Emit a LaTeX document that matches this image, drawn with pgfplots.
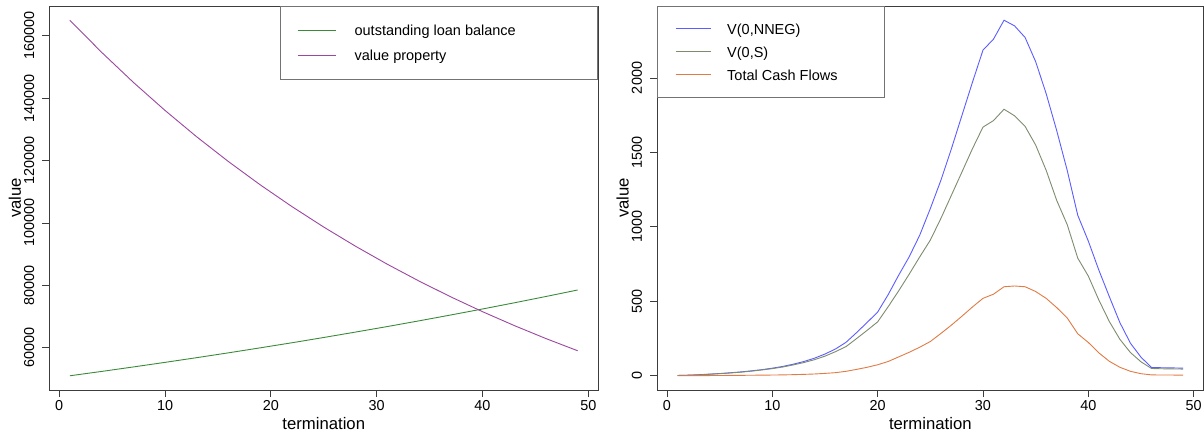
\documentclass[border=0pt]{standalone}
\usepackage{fontspec}
\setmainfont{Liberation Sans}
\usepackage{pgfplots}
\usepackage{pgfplotstable}
\pgfplotsset{compat=1.18}

\definecolor{loangreen}{HTML}{3A8A3A}
\definecolor{propviolet}{HTML}{9C46A0}
\definecolor{nnegblue}{HTML}{5C5CFF}
\definecolor{sgreen}{HTML}{7D8C6E}
\definecolor{cforange}{HTML}{E07B45}
\definecolor{framegray}{HTML}{3C3C3C}

% loan balance and property value by termination year
\pgfplotstableread{
t  loan   prop
1  51000  165000
4  52390  154730
7  53830  145100
10 55300  136070
13 56810  127600
16 58360  119660
19 59960  112210
22 61590  105230
25 63280  98680
28 65010  92540
31 66780  86780
34 68610  81380
37 70490  76310
40 72410  71560
43 74390  67110
46 76420  62930
49 78510  59020
}\balance

% guarantee values and cash flows by termination year
\pgfplotstableread{
t  nneg  vs    cf
1  2     2     0
2  4     4     0.5
3  7     6     1
4  11    10    1.5
5  15    14    2
6  20    19    2.5
7  26    24    3
8  33    31    3.5
9  41    39    4.5
10 51    48    5
11 63    59    6
12 78    73    7.5
13 96    89    9.5
14 118   108   12
15 146   132   16
16 180   162   21
17 225   196   30
18 290   250   43
19 358   305   57
20 428   362   74
21 545   464   96
22 676   571   127
23 800   683   158
24 945   799   192
25 1123  911   230
26 1312  1056  284
27 1524  1212  340
28 1748  1368  400
29 1971  1525  462
30 2187  1670  520
31 2261  1714  548
32 2388  1790  598
33 2350  1746  603
34 2272  1675  598
35 2110  1550  566
36 1895  1380  520
37 1647  1178  458
38 1379  1015  388
39 1078  790   282
40 905   670   224
41 710   509   154
42 531   364   97
43 357   245   57
44 219   156   30
45 125   94    14
46 56    49    6
47 54    47    5
48 53    46    5
49 51    45    4
}\guarantee

\pgfplotsset{
  rpanel/.style={
    scale only axis, height=384bp, anchor=south west,
    axis line style={draw=framegray, line width=0.8bp},
    every tick/.style={draw=framegray, line width=0.8bp},
    tick align=outside, major tick length=7bp,
    xtick pos=left, ytick pos=left,
    xmin=-0.92, xmax=50.92, xtick={0,10,...,50},
    scaled y ticks=false,
    xticklabel={\pgfmathprintnumber[fixed,precision=0,1000 sep={},assume math mode=true]{\tick}},
    yticklabel={\pgfmathprintnumber[fixed,precision=0,1000 sep={},assume math mode=true]{\tick}},
    ticklabel style={font=\fontsize{14.4bp}{17bp}\selectfont, inner sep=0pt},
    xticklabel style={anchor=north},
    yticklabel style={rotate=90, anchor=south},
    xticklabel shift=3bp, yticklabel shift=8bp,
    label style={font=\fontsize{16.7bp}{20bp}\selectfont, inner sep=0pt},
    xlabel={termination}, ylabel={value},
    xlabel style={at={(axis description cs:0.5,-0.0885)}, anchor=center},
    legend cell align=left,
    every axis plot/.append style={line width=0.9bp},
  },
}

\begin{document}
\begin{tikzpicture}
\useasboundingbox (0,0) rectangle (1204bp,435bp);

\begin{axis}[rpanel,
  at={(49.5bp,45bp)}, width=548.5bp,
  ymin=46440, ymax=169560,
  ytick={60000,80000,100000,120000,140000,160000},
  ylabel style={at={(axis description cs:-0.0629,0.5)}, anchor=center},
  legend image code/.code={
    \path[draw=none, fill=none] (0bp,-7.3bp) rectangle (74bp,17.7bp);
    \draw[#1] (17bp,5.2bp) -- (55bp,5.2bp);},
  legend style={at={(rel axis cs:1,1)}, anchor=north east,
    draw=black!55, line width=0.8bp, fill=white,
    inner xsep=0pt, inner ysep=11.5bp, row sep=0pt, column sep=0pt,
    cells={anchor=base west},
    nodes={inner sep=0pt},
    font=\fontsize{14.5bp}{17bp}\selectfont},
]
\addplot[loangreen] table[x=t, y=loan] {\balance};
\addlegendentry{\rule[-7.3bp]{0pt}{25bp}\makebox[243bp][l]{outstanding loan balance}}
\addplot[propviolet] table[x=t, y=prop] {\balance};
\addlegendentry{\rule[-7.3bp]{0pt}{25bp}\makebox[243bp][l]{value property}}
\end{axis}

\begin{axis}[rpanel,
  at={(657.3bp,45bp)}, width=546bp,
  ymin=-95.5, ymax=2483.5,
  ytick={0,500,1000,1500,2000},
  ylabel style={at={(axis description cs:-0.0636,0.5)}, anchor=center},
  legend image code/.code={
    \path[draw=none, fill=none] (0bp,-6.3bp) rectangle (69.5bp,16.7bp);
    \draw[#1] (18bp,5.2bp) -- (53bp,5.2bp);},
  legend style={at={(rel axis cs:0,1)}, anchor=north west,
    draw=black!55, line width=0.8bp, fill=white,
    inner xsep=0pt, inner ysep=11bp, row sep=0pt, column sep=0pt,
    cells={anchor=base west},
    nodes={inner sep=0pt},
    font=\fontsize{14.5bp}{17bp}\selectfont},
]
\addplot[nnegblue] table[x=t, y=nneg] {\guarantee};
\addlegendentry{\rule[-6.3bp]{0pt}{23bp}\makebox[157.5bp][l]{V(0,NNEG)}}
\addplot[sgreen] table[x=t, y=vs] {\guarantee};
\addlegendentry{\rule[-6.3bp]{0pt}{23bp}\makebox[157.5bp][l]{V(0,S)}}
\addplot[cforange] table[x=t, y=cf] {\guarantee};
\addlegendentry{\rule[-6.3bp]{0pt}{23bp}\makebox[157.5bp][l]{Total Cash Flows}}
\end{axis}
\end{tikzpicture}
\end{document}
